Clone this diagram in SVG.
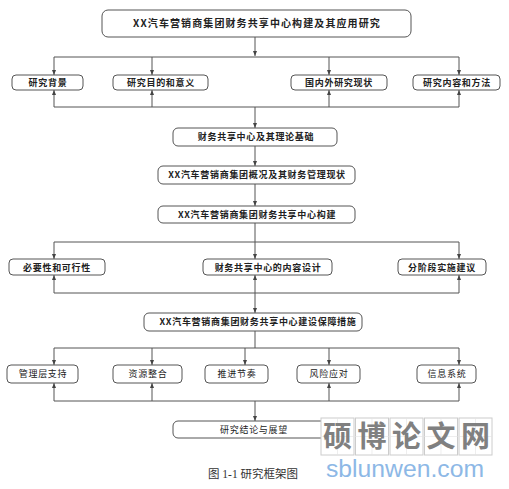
<svg xmlns="http://www.w3.org/2000/svg" width="509" height="489" viewBox="0 0 509 489">
<style>
.box{fill:#fff;stroke:#555;stroke-width:1}
.t{font-family:"Noto Sans CJK SC","Liberation Sans",sans-serif;font-size:9px;fill:#222;text-anchor:middle;letter-spacing:0.7px}
.tb{font-weight:bold}
.tt{font-size:10px;letter-spacing:1.1px;font-weight:bold}
.c{fill:none;stroke:#555;stroke-width:1}
.a{fill:none;stroke:#555;stroke-width:1;marker-end:url(#ah)}
.wt{fill:#fff;stroke:#ccc;stroke-width:1}
.wg{stroke:#e2e2e2;stroke-width:0.6}
.wc{font-family:"Noto Sans CJK SC",sans-serif;font-size:29px;font-weight:bold;fill:#808080;text-anchor:middle}
</style>
<defs>
<marker id="ah" viewBox="0 0 10 8" refX="10" refY="4" markerWidth="5" markerHeight="4" markerUnits="userSpaceOnUse" orient="auto">
<path d="M0,0 L10,4 L0,8 z" fill="#444"/>
</marker>
</defs>
<rect width="509" height="489" fill="#fff"/>
<g id="connectors">
<path class="a" d="M255,37 V56"/>
<path class="c" d="M54,57 H459"/>
<path class="a" d="M54,57 V75"/>
<path class="a" d="M152,57 V75"/>
<path class="a" d="M329,57 V75"/>
<path class="a" d="M459,57 V75"/>
<path class="c" d="M54,107 H459"/>
<path class="a" d="M54,107 V90"/>
<path class="a" d="M152,107 V90"/>
<path class="a" d="M329,107 V90"/>
<path class="a" d="M459,107 V90"/>
<path class="a" d="M255,107 V128"/>
<path class="a" d="M255,146 V166"/>
<path class="a" d="M255,184 V206"/>
<path class="c" d="M255,223 V242 M54,242 H459"/>
<path class="a" d="M54,242 V259"/>
<path class="a" d="M255,242 V259"/>
<path class="a" d="M459,242 V259"/>
<path class="c" d="M54,293 H459"/>
<path class="a" d="M54,293 V275"/>
<path class="a" d="M255,293 V275"/>
<path class="a" d="M459,293 V275"/>
<path class="a" d="M255,293 V313"/>
<path class="c" d="M255,331 V348 M54,348 H459"/>
<path class="a" d="M54,348 V365"/>
<path class="a" d="M152,348 V365"/>
<path class="a" d="M245,348 V365"/>
<path class="a" d="M329,348 V365"/>
<path class="a" d="M459,348 V365"/>
<path class="c" d="M54,401 H459"/>
<path class="a" d="M54,401 V383"/>
<path class="a" d="M152,401 V383"/>
<path class="a" d="M329,401 V383"/>
<path class="a" d="M459,401 V383"/>
<path class="a" d="M255,401 V421"/>
</g>
<g id="n_title"><rect class="box" x="102" y="10" width="309" height="27" rx="6"/><text class="t tt" x="257" y="27">XX汽车营销商集团财务共享中心构建及其应用研究</text></g>
<g id="n_bg"><rect class="box" x="12" y="75" width="71" height="15" rx="4"/><text class="t tb" x="48" y="86">研究背景</text></g>
<g id="n_purpose"><rect class="box" x="113" y="75" width="95" height="15" rx="4"/><text class="t tb" x="161" y="86">研究目的和意义</text></g>
<g id="n_status"><rect class="box" x="291" y="75" width="96" height="15" rx="4"/><text class="t tb" x="339" y="86">国内外研究现状</text></g>
<g id="n_method"><rect class="box" x="413" y="75" width="87" height="15" rx="4"/><text class="t tb" x="457" y="86">研究内容和方法</text></g>
<g id="n_theory"><rect class="box" x="173" y="128" width="164" height="18" rx="5"/><text class="t tb" x="256" y="140">财务共享中心及其理论基础</text></g>
<g id="n_overview"><rect class="box" x="158" y="166" width="197" height="18" rx="5"/><text class="t tb" x="257" y="178">XX汽车营销商集团概况及其财务管理现状</text></g>
<g id="n_build"><rect class="box" x="158" y="206" width="197" height="17" rx="5"/><text class="t tb" x="257" y="218">XX汽车营销商集团财务共享中心构建</text></g>
<g id="n_need"><rect class="box" x="9" y="259" width="96" height="16" rx="4"/><text class="t tb" x="57" y="271">必要性和可行性</text></g>
<g id="n_design"><rect class="box" x="203" y="259" width="129" height="16" rx="4"/><text class="t tb" x="268" y="271">财务共享中心的内容设计</text></g>
<g id="n_stage"><rect class="box" x="398" y="259" width="88" height="16" rx="4"/><text class="t tb" x="442" y="271">分阶段实施建议</text></g>
<g id="n_guarantee"><rect class="box" x="144" y="313" width="218" height="18" rx="5"/><text class="t tb" x="258" y="325">XX汽车营销商集团财务共享中心建设保障措施</text></g>
<g id="n_mgmt"><rect class="box" x="7" y="365" width="71" height="18" rx="4"/><text class="t" x="43" y="377">管理层支持</text></g>
<g id="n_res"><rect class="box" x="113" y="365" width="69" height="18" rx="4"/><text class="t" x="148" y="377">资源整合</text></g>
<g id="n_pace"><rect class="box" x="205" y="365" width="63" height="18" rx="4"/><text class="t" x="237" y="377">推进节奏</text></g>
<g id="n_risk"><rect class="box" x="297" y="365" width="63" height="18" rx="4"/><text class="t" x="329" y="377">风险应对</text></g>
<g id="n_info"><rect class="box" x="417" y="365" width="59" height="18" rx="4"/><text class="t" x="447" y="377">信息系统</text></g>
<g id="n_concl"><rect class="box" x="173" y="421" width="160" height="17" rx="5"/><text class="t" x="254" y="433">研究结论与展望</text></g>
<text x="253" y="478" style="font-family:'Liberation Serif','Noto Sans CJK SC',serif;font-size:11.5px;fill:#333;text-anchor:middle">图 1-1 研究框架图</text>
<g id="watermark">
<rect class="wt" x="321" y="418" width="33" height="37"/>
<rect class="wt" x="355.5" y="418" width="33" height="37"/>
<rect class="wt" x="390" y="418" width="33" height="37"/>
<rect class="wt" x="424.5" y="418" width="33" height="37"/>
<rect class="wt" x="459" y="418" width="33" height="37"/>
<path class="wg" d="M321,436.5 H492 M337.5,418 V455 M372,418 V455 M406.5,418 V455 M441,418 V455 M475.5,418 V455"/>
<text class="wc" x="337.5" y="447">硕</text>
<text class="wc" x="372" y="447">博</text>
<text class="wc" x="406.5" y="447">论</text>
<text class="wc" x="441" y="447">文</text>
<text class="wc" x="475.5" y="447">网</text>
<text x="326" y="477" textLength="158" lengthAdjust="spacingAndGlyphs" style="font-family:'Liberation Sans',sans-serif;font-size:23px;fill:#8db8e6">sblunwen.com</text>
</g>
</svg>
